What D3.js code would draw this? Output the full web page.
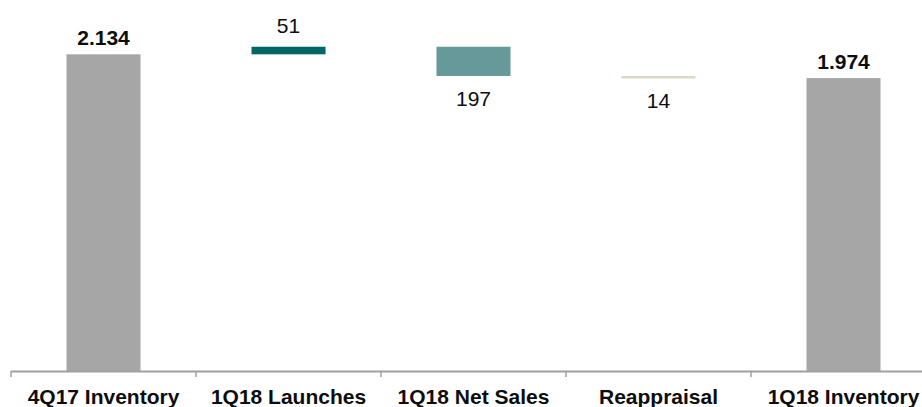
<!DOCTYPE html>
<html>
<head>
<meta charset="utf-8">
<script src="https://cdn.jsdelivr.net/npm/d3@7"></script>
<style>
  body { margin: 0; background: #fff; }
  svg { display: block; font-family: "Liberation Sans", Arial, sans-serif; }
</style>
</head>
<body>
<script>
const categories = ['4Q17 Inventory', '1Q18 Launches', '1Q18 Net Sales', 'Reappraisal', '1Q18 Inventory']
const kinds = ['total', 'up', 'down', 'down', 'total']
const values = [2134, 51, 197, 14, 1974]
const valueLabels = ['2.134', '51', '197', '14', '1.974']
const colors = ['#a6a6a6', '#006666', '#669999', '#ddd9c3', '#a6a6a6']

const width = 922, height = 407
const baseY = 371

// running totals for the floating steps
let running = 0
const steps = categories.map((c, i) => {
  let lo, hi
  if (kinds[i] === 'total') { lo = 0; hi = values[i]; running = values[i] }
  else if (kinds[i] === 'up') { lo = running; hi = running + values[i]; running = hi }
  else { hi = running; lo = running - values[i]; running = lo }
  return { name: c, kind: kinds[i], lo, hi, label: valueLabels[i], color: colors[i] }
})

const svg = d3.select('body').append('svg')
  .attr('width', width).attr('height', height)

const x = d3.scaleBand().domain(categories).range([11, 936]).padding(0)
const y = d3.scaleLinear().domain([0, 2500]).range([baseY, 0])
const barW = x.bandwidth() * 0.4

svg.selectAll('rect.bar')
  .data(steps)
  .enter()
  .append('rect')
  .attr('class', 'bar')
  .attr('x', d => x(d.name) + (x.bandwidth() - barW) / 2)
  .attr('width', barW)
  .attr('y', d => y(d.hi))
  .attr('height', d => Math.max(2.5, y(d.lo) - y(d.hi)))
  .attr('fill', d => d.color)

// axis with ticks at band edges
svg.append('line')
  .attr('x1', 11).attr('x2', 936)
  .attr('y1', baseY + 0.5).attr('y2', baseY + 0.5)
  .attr('stroke', '#a0a0a0').attr('stroke-width', 1.8)

svg.selectAll('line.tick')
  .data(categories)
  .enter()
  .append('line')
  .attr('class', 'tick')
  .attr('x1', d => x(d)).attr('x2', d => x(d))
  .attr('y1', baseY).attr('y2', baseY + 6)
  .attr('stroke', '#a0a0a0').attr('stroke-width', 1.5)

svg.selectAll('text.cat')
  .data(categories)
  .enter()
  .append('text')
  .attr('class', 'cat')
  .attr('x', d => x(d) + x.bandwidth() / 2)
  .attr('y', 404)
  .attr('text-anchor', 'middle')
  .attr('font-size', '21px')
  .attr('font-weight', 'bold')
  .attr('fill', '#0d0d0d')
  .text(d => d)

svg.selectAll('text.val')
  .data(steps)
  .enter()
  .append('text')
  .attr('class', 'val')
  .attr('x', d => x(d.name) + x.bandwidth() / 2)
  .attr('y', d => {
    if (d.kind === 'total') return y(d.hi) - 9
    if (d.kind === 'up') return y(d.hi) - 14
    return y(d.lo) + 30
  })
  .attr('text-anchor', 'middle')
  .attr('font-size', '21px')
  .attr('font-weight', d => d.kind === 'total' ? 'bold' : 'normal')
  .attr('fill', '#0d0d0d')
  .text(d => d.label)
</script>
</body>
</html>
